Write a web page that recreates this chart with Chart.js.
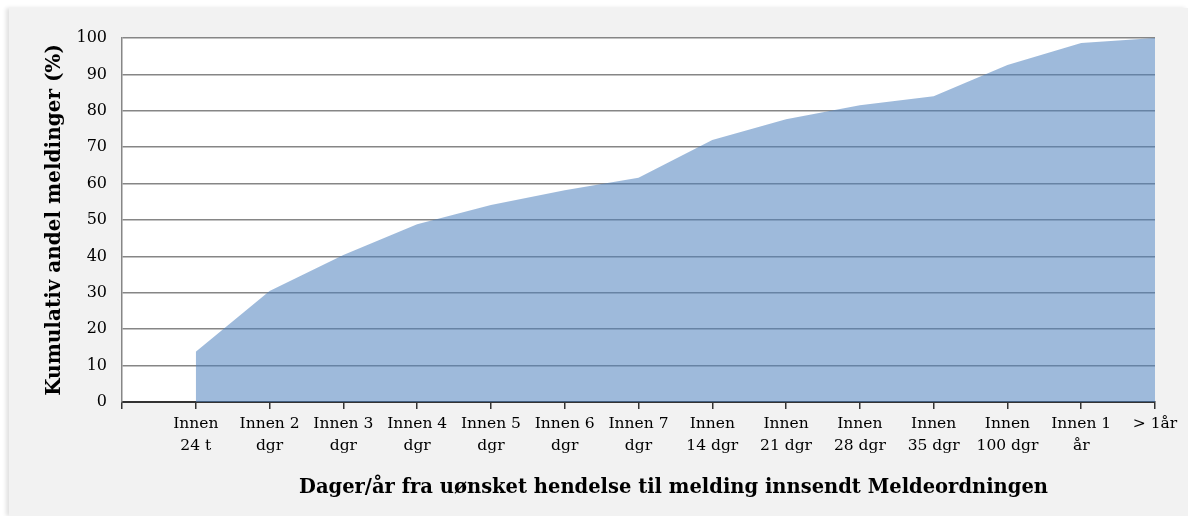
<!DOCTYPE html>
<html lang="no">

<head>
    <meta charset="UTF-8">
    <title>Kumulativ andel meldinger</title>
    <style>
        body { margin: 0; background: #ffffff; }
        .panel {
            position: absolute;
            left: 9px; top: 8px;
            width: 1179px; height: 508px;
            background: #f2f2f2;
            box-shadow: -3px 0 4px rgba(0, 0, 0, 0.12);
        }
    </style>
</head>

<body>
    <div class="panel">
        <canvas id="myChart" width="1179" height="508"></canvas>
    </div>
</body>
<script src="https://cdn.jsdelivr.net/npm/chart.js"></script>
<script>
    // kategorier (første er tom, grafen starter ved "Innen 24 t")
    const kategorier = [
        '',
        ['Innen', '24 t'],
        ['Innen 2', 'dgr'],
        ['Innen 3', 'dgr'],
        ['Innen 4', 'dgr'],
        ['Innen 5', 'dgr'],
        ['Innen 6', 'dgr'],
        ['Innen 7', 'dgr'],
        ['Innen', '14 dgr'],
        ['Innen', '21 dgr'],
        ['Innen', '28 dgr'],
        ['Innen', '35 dgr'],
        ['Innen', '100 dgr'],
        ['Innen 1', 'år'],
        '> 1år'
    ];

    // kumulativ andel (%)
    const andel = [null, 13.8, 30.5, 40.4, 48.8, 54.1, 58.2, 61.6, 72.0, 77.7, 81.5, 84.0, 92.6, 98.6, 100];

    const yTicks = [0, 10, 20, 30, 40, 50, 60, 70, 80, 90, 100];

    const xTittel = 'Dager/år fra uønsket hendelse til melding innsendt Meldeordningen';
    const yTittel = 'Kumulativ andel meldinger (%)';

    const fontFam = "'DejaVu Serif', Georgia, serif";

    new Chart(document.getElementById('myChart'), {
        type: 'line',
        data: {
            labels: kategorier,
            datasets: [{
                data: andel,
                fill: 'origin',
                backgroundColor: 'rgba(79, 129, 189, 0.55)',
                borderWidth: 0,
                pointRadius: 0,
                tension: 0,
                spanGaps: false
            }]
        },
        options: {
            responsive: false,
            animation: false,
            layout: { padding: { top: 30, right: 33, left: 0, bottom: 0 } },
            plugins: {
                legend: { display: false },
                tooltip: { enabled: false }
            },
            scales: {
                x: {
                    offset: false,
                    z: 1,
                    grid: {
                        display: true,
                        drawOnChartArea: false,
                        color: '#333333',
                        lineWidth: 1.5,
                        tickLength: 7
                    },
                    border: { display: true, color: '#333333', width: 2 },
                    ticks: {
                        color: '#000000',
                        font: { family: fontFam, size: 15.5, lineHeight: 1.4 },
                        maxRotation: 0,
                        autoSkip: false,
                        padding: 4
                    },
                    afterFit: (scale) => { scale.height = 114; }
                },
                y: {
                    min: 0,
                    max: 100,
                    afterBuildTicks: (scale) => { scale.ticks = yTicks.map(v => ({ value: v })); },
                    grid: {
                        color: '#868686',
                        lineWidth: 1.5,
                        drawTicks: false
                    },
                    border: { display: true, color: '#868686', width: 1.5 },
                    ticks: {
                        color: '#000000',
                        font: { family: fontFam, size: 16 },
                        padding: 15
                    },
                    title: {
                        display: true,
                        text: yTittel,
                        color: '#000000',
                        font: { family: fontFam, size: 20, weight: 'bold' },
                        padding: { top: 34, bottom: 0 }
                    },
                    afterFit: (scale) => { scale.width = 113; }
                }
            }
        },
        plugins: [{
            // hvit plottflate
            id: 'plotBg',
            beforeDraw(chart) {
                const { ctx, chartArea: a } = chart;
                ctx.save();
                ctx.fillStyle = '#ffffff';
                ctx.fillRect(a.left, a.top, a.right - a.left, a.bottom - a.top);
                ctx.restore();
            }
        }, {
            // x-akse tittel, litt forskjøvet mot høyre som i originalen
            id: 'xTittel',
            afterDraw(chart) {
                const { ctx, chartArea: a } = chart;
                ctx.save();
                ctx.fillStyle = '#000000';
                ctx.font = "bold 19.5px " + fontFam;
                ctx.textAlign = 'center';
                ctx.textBaseline = 'middle';
                ctx.fillText(xTittel, (a.left + a.right) / 2 + 35, a.bottom + 86);
                ctx.restore();
            }
        }]
    });
</script>
</html>
